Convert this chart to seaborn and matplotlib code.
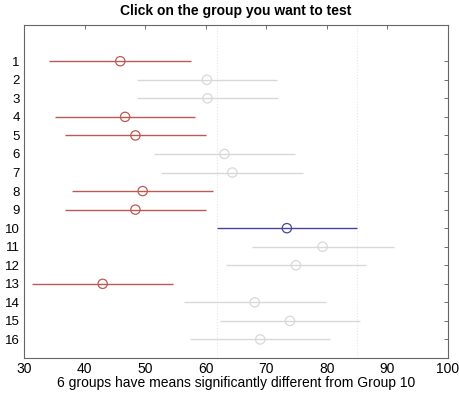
import matplotlib
matplotlib.use("Agg")
import matplotlib.pyplot as plt
import seaborn as sns
import pandas as pd
import numpy as np

groups = list(range(1, 17))
means = [45.9, 60.2, 60.3, 46.7, 48.4, 63.1, 64.4, 49.6, 48.4, 73.4, 79.3, 74.9, 43.0, 68.1, 73.9, 69.0]
half_width = [11.7, 11.6, 11.6, 11.6, 11.6, 11.6, 11.7, 11.6, 11.6, 11.6, 11.7, 11.6, 11.6, 11.7, 11.6, 11.6]
status = ["diff", "same", "same", "diff", "diff", "same", "same", "diff", "diff", "ref",
          "same", "same", "diff", "same", "same", "same"]
xticks = [30, 40, 50, 60, 70, 80, 90, 100]
title = "Click on the group you want to test"
xlabel = "6 groups have means significantly different from Group 10"

palette = {"diff": "#bb5a55", "same": "#d8d8d8", "ref": "#45459a"}

df = pd.DataFrame({"group": groups, "mean": means, "hw": half_width, "status": status})
df["lo"] = df["mean"] - df["hw"]
df["hi"] = df["mean"] + df["hw"]

sns.set_style("white")
plt.rcParams["font.family"] = ["Liberation Sans", "DejaVu Sans"]
plt.rcParams["text.color"] = "black"
plt.rcParams["xtick.color"] = "black"
plt.rcParams["ytick.color"] = "black"
plt.rcParams["axes.labelcolor"] = "black"

fig = plt.figure(figsize=(4.6, 3.98), dpi=100)
ax = fig.add_axes([0.052, 0.1005, 0.922, 0.8365])

ref = df[df["status"] == "ref"].iloc[0]
for xv in (ref["lo"], ref["hi"]):
    ax.axvline(xv, color="#e6e6e6", lw=0.8, ls=":", zorder=0)

for _, r in df.iterrows():
    ax.hlines(r["group"], r["lo"], r["hi"], color=palette[r["status"]], lw=1.0, zorder=1)

sns.scatterplot(data=df, x="mean", y="group", hue="status", palette=palette,
                marker="o", s=45, linewidth=0.9, legend=False, ax=ax, zorder=2)
pc = ax.collections[-1]
cols = [palette[s] for s in df["status"]]
pc.set_facecolor("none")
pc.set_edgecolor(cols)

ax.set_xlim(30, 100)
ax.set_ylim(17.0, -0.95)
ax.set_xticks(xticks)
ax.set_yticks(groups)
ax.set_yticklabels([str(g) for g in groups])
ax.tick_params(axis="both", direction="in", length=3, width=0.6, color="#555555",
               labelsize=9.5, labelcolor="black", top=True, right=True, pad=3)
ax.tick_params(axis="x", pad=3, labelsize=10)
for sp in ax.spines.values():
    sp.set_color("#666666")
    sp.set_linewidth(0.8)
ax.set_xlabel(xlabel, fontsize=10, labelpad=0, color="black")
ax.set_ylabel("")
ax.set_title(title, fontsize=10, fontweight="bold", pad=7, color="black")

fig.savefig("out.png", dpi=100)
